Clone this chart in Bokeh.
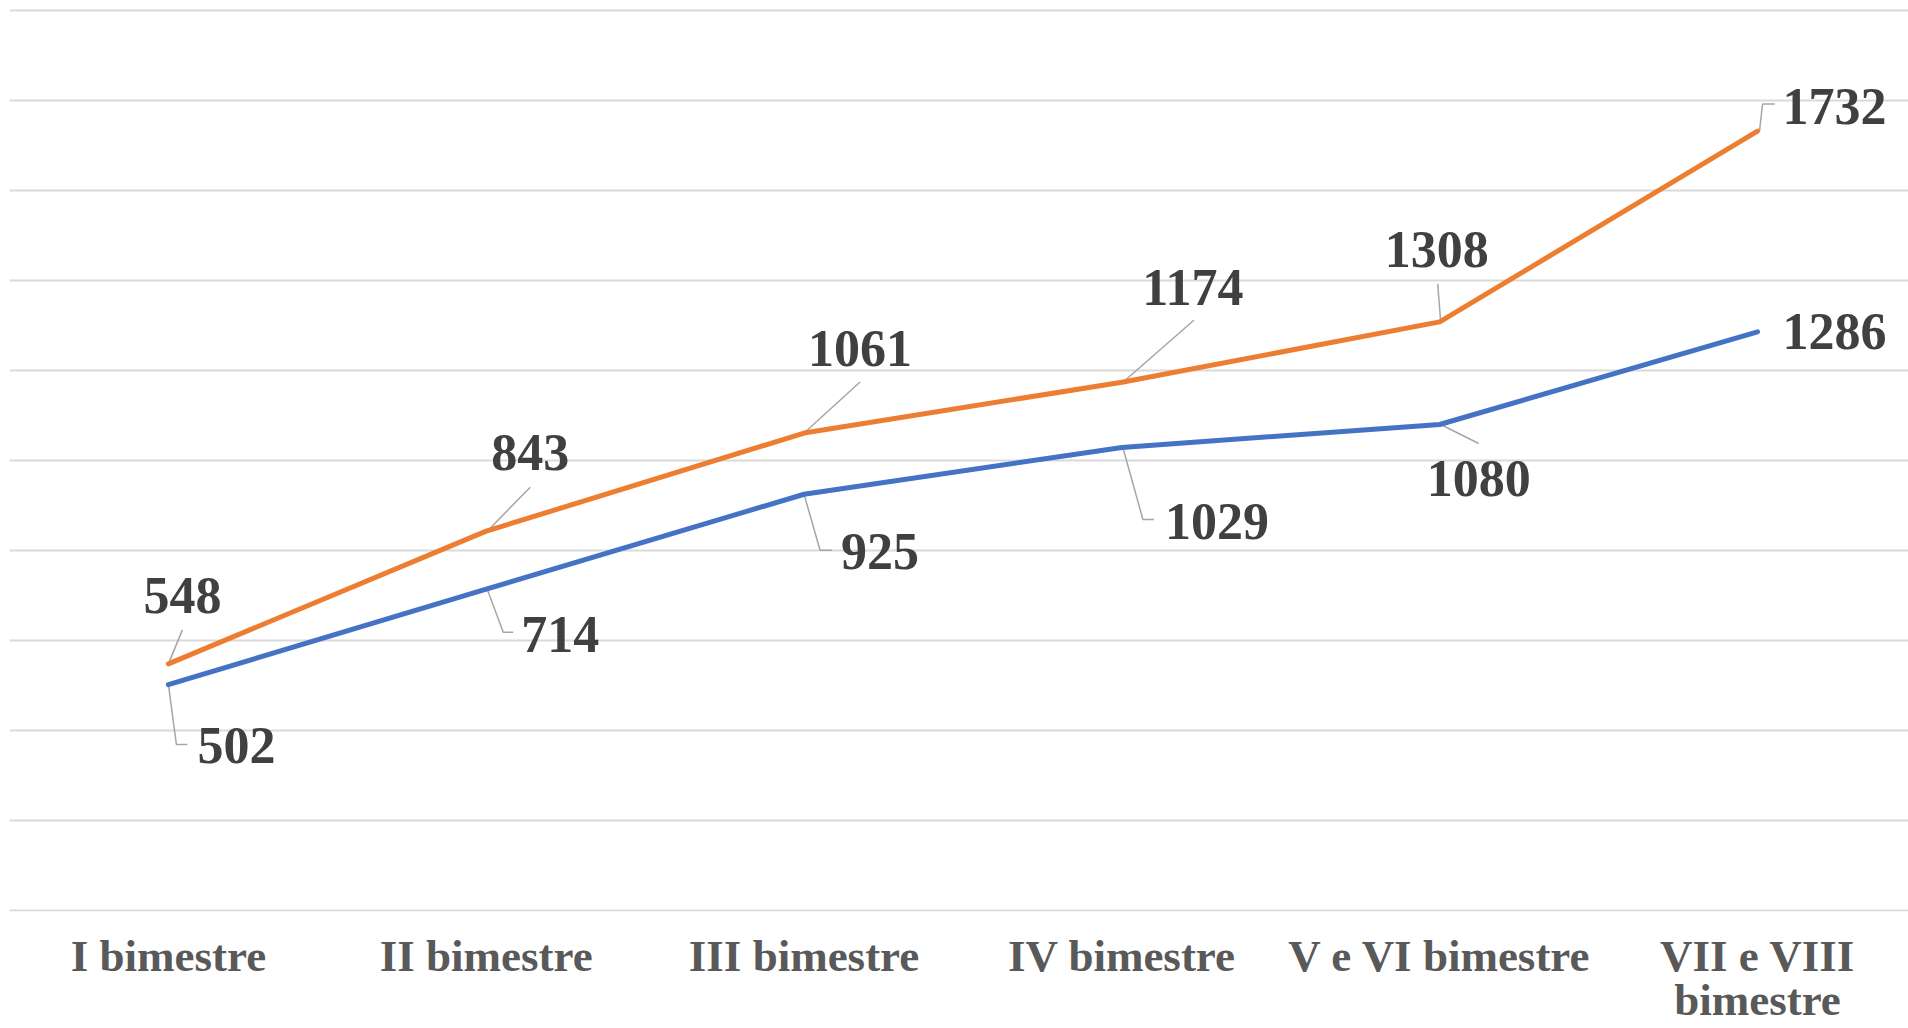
from bokeh.plotting import figure
from bokeh.models import Range1d, FixedTicker, Grid, ColumnDataSource
from bokeh.core.properties import value
from bokeh.embed import file_html
from bokeh.resources import INLINE

# ---- data ----
categories = ["I bimestre", "II bimestre", "III bimestre", "IV bimestre",
              "V e VI bimestre", "VII e VIII\nbimestre"]
serie_arancione = [548, 843, 1061, 1174, 1308, 1732]
serie_blu = [502, 714, 925, 1029, 1080, 1286]
y_ticks = list(range(0, 2001, 200))

# ---- label placement (pixel offsets from each point, screen coords: +y down) ----
orange_lbl_off = [(14, -68), (44, -79), (56, -85), (71, -95), (-3, -72), (77, -25)]
blue_lbl_off = [(68, 61), (74, 45), (76, 57), (95, 74), (39, 54), (77, 0)]
orange_leaders = [
    [(0, 0), (14, -34)],
    [(1, 0), (44, -44)],
    [(0, 0), (56, -51)],
    [(1, 0), (72, -62)],
    [(1, 0), (-2, -38)],
    [(2, 0), (5, -27), (17, -27)],
]
blue_leaders = [
    [(0, 0), (8, 60), (19, 60)],
    [(1, 0), (17, 43), (27, 43)],
    [(0, 0), (16, 56), (28, 56)],
    [(1, 0), (21, 72), (32, 72)],
    [(1, 0), (39, 19)],
    None,
]

W, H = 1908, 1028
BORDER_L, BORDER_R, BORDER_T, BORDER_B = 9, 0, 8, 117
X0, X1 = -0.5, 5.475
Y0, Y1 = -2.22, 2004.44
frame_w = W - BORDER_L - BORDER_R
frame_h = H - BORDER_T - BORDER_B
sx = frame_w / (X1 - X0)
sy = frame_h / (Y1 - Y0)

xs = list(range(len(categories)))

p = figure(width=W, height=H, output_backend="svg", toolbar_location=None,
           x_range=Range1d(X0, X1), y_range=Range1d(Y0, Y1),
           min_border_left=BORDER_L, min_border_right=BORDER_R,
           min_border_top=BORDER_T, min_border_bottom=BORDER_B,
           y_axis_location=None)
p.outline_line_color = None
p.background_fill_color = "white"
p.border_fill_color = "white"
for g in p.grid:
    g.visible = False

grid = Grid(dimension=1, ticker=FixedTicker(ticks=y_ticks),
            grid_line_color="#d9d9d9", grid_line_width=2)
p.add_layout(grid)

ax = p.xaxis[0]
ax.ticker = FixedTicker(ticks=xs)
ax.major_label_overrides = {i: c for i, c in enumerate(categories)}
ax.axis_line_color = None
ax.major_tick_line_color = None
ax.minor_tick_line_color = None
ax.major_tick_out = 0
ax.major_tick_in = 0
ax.major_label_standoff = 19
ax.major_label_text_font = "Liberation Serif"
ax.major_label_text_font_style = "bold"
ax.major_label_text_font_size = "45px"
ax.major_label_text_color = "#595959"
ax.major_label_text_line_height = 0.88

# leaders
def leaders(vals, specs):
    lx, ly = [], []
    for i, (v, spec) in enumerate(zip(vals, specs)):
        if spec is None:
            continue
        lx.append([i + dx / sx for dx, dy in spec])
        ly.append([v - dy / sy for dx, dy in spec])
    return lx, ly

for vals, specs in ((serie_arancione, orange_leaders), (serie_blu, blue_leaders)):
    lx, ly = leaders(vals, specs)
    p.multi_line(lx, ly, line_color="#a6a6a6", line_width=1.5)

p.line(xs, serie_blu, line_color="#4472C4", line_width=5, line_cap="round", line_join="round")
p.line(xs, serie_arancione, line_color="#ED7D31", line_width=5, line_cap="round", line_join="round")

for vals, offs in ((serie_arancione, orange_lbl_off), (serie_blu, blue_lbl_off)):
    src = ColumnDataSource(dict(x=xs, y=vals, t=[str(v) for v in vals],
                                xo=[o[0] for o in offs], yo=[o[1] for o in offs]))
    p.text("x", "y", text="t", x_offset="xo", y_offset="yo", source=src,
           text_font=value("Liberation Serif"), text_font_style="bold",
           text_font_size="52px", text_color="#404040",
           text_align="center", text_baseline="middle")

open("out.html", "w").write(file_html(p, INLINE))
